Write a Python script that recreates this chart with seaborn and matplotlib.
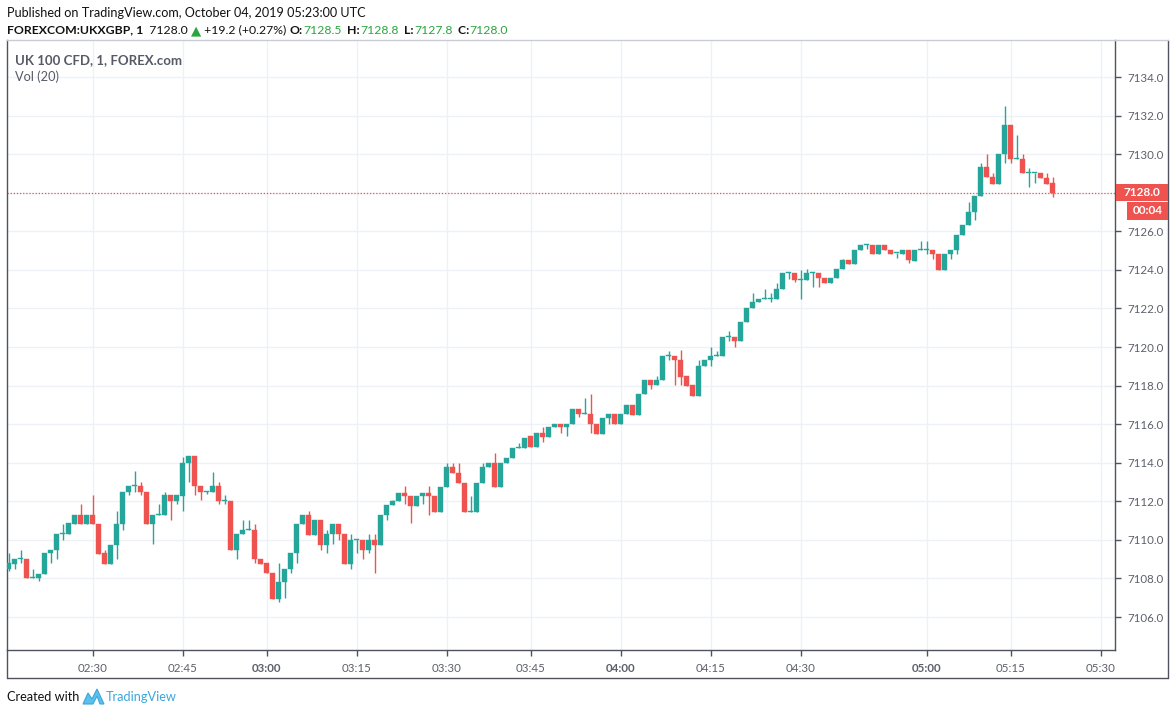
import numpy as np
import matplotlib
matplotlib.use("Agg")
import matplotlib.pyplot as plt
from matplotlib.lines import Line2D
from matplotlib.patches import Polygon, Rectangle
import seaborn as sns

# one-minute candles, FOREXCOM:UKXGBP
opens = [
    7108.5, 7108.75, 7109.0, 7109.0, 7108.0, 7108.0, 7108.25, 7109.3, 7109.5, 7110.3,
    7110.3, 7110.8, 7111.3, 7110.8, 7111.3, 7110.8, 7109.3, 7108.75, 7109.75, 7110.8,
    7112.5, 7112.8, 7112.8, 7112.5, 7110.8, 7111.3, 7111.3, 7112.35, 7112.0, 7112.3,
    7114.0, 7114.33, 7112.8, 7112.5, 7112.5, 7112.8, 7112.0, 7112.0, 7109.5, 7110.3,
    7110.5, 7110.5, 7109.0, 7108.8, 7108.26, 7106.95, 7107.8, 7108.5, 7109.3, 7110.8,
    7111.3, 7110.27, 7111.05, 7109.75, 7110.3, 7110.8, 7110.3, 7108.75, 7110.0, 7110.0,
    7109.5, 7110.0, 7109.75, 7111.3, 7111.8, 7112.0, 7112.45, 7112.28, 7111.75, 7112.28,
    7112.45, 7112.28, 7111.45, 7112.76, 7113.8, 7113.48, 7112.97, 7111.45, 7111.45, 7112.97,
    7113.8, 7113.97, 7112.74, 7113.97, 7114.26, 7114.78, 7114.78, 7115.38, 7114.8, 7115.52,
    7115.35, 7115.83, 7116.03, 7115.83, 7116.03, 7116.8, 7116.55, 7116.55, 7116.0, 7115.5,
    7116.34, 7116.55, 7116.0, 7116.55, 7117.0, 7116.5, 7117.54, 7118.29, 7118.03, 7118.29,
    7119.53, 7119.53, 7119.33, 7118.5, 7118.03, 7117.48, 7119.03, 7119.33, 7119.53, 7119.53,
    7120.53, 7120.53, 7120.3, 7121.3, 7122.02, 7122.35, 7122.48, 7122.48, 7122.48, 7123.0,
    7123.86, 7123.86, 7123.5, 7123.5, 7123.86, 7123.86, 7123.56, 7123.33, 7123.56, 7124.02,
    7124.53, 7124.33, 7125.05, 7125.3, 7125.3, 7124.82, 7125.3, 7125.05, 7124.87, 7124.82,
    7125.05, 7124.48, 7125.03, 7125.03, 7125.03, 7124.83, 7123.97, 7124.83, 7125.03, 7125.82,
    7126.32, 7127.0, 7127.84, 7129.34, 7128.82, 7128.47, 7129.99, 7131.5, 7129.77, 7129.77,
    7129.0, 7129.0, 7129.0, 7128.78, 7128.5]

highs = [
    7109.3, 7109.0, 7109.5, 7109.0, 7108.5, 7108.25, 7109.3, 7109.5, 7110.3, 7110.8,
    7110.85, 7111.3, 7111.85, 7111.3, 7112.35, 7110.8, 7109.5, 7109.75, 7111.5, 7112.5,
    7112.8, 7113.55, 7113.0, 7112.5, 7111.3, 7111.85, 7112.5, 7112.35, 7112.35, 7114.3,
    7114.33, 7114.33, 7112.8, 7112.55, 7113.5, 7113.0, 7112.35, 7112.0, 7110.3, 7111.05,
    7111.05, 7110.8, 7109.0, 7108.8, 7108.26, 7108.78, 7108.5, 7109.3, 7110.8, 7111.3,
    7111.5, 7111.05, 7111.05, 7110.5, 7110.8, 7110.8, 7110.3, 7110.3, 7110.02, 7110.0,
    7110.3, 7110.3, 7111.3, 7111.8, 7112.05, 7112.45, 7112.8, 7112.28, 7112.28, 7112.45,
    7112.8, 7112.28, 7112.76, 7114.0, 7114.0, 7114.0, 7112.97, 7112.28, 7112.97, 7114.0,
    7113.97, 7114.52, 7113.97, 7114.26, 7114.78, 7115.0, 7115.3, 7115.38, 7115.52, 7115.83,
    7115.83, 7116.03, 7116.03, 7116.03, 7116.8, 7116.8, 7117.35, 7117.54, 7116.0, 7116.34,
    7116.55, 7116.55, 7116.55, 7117.0, 7117.0, 7117.54, 7118.29, 7118.29, 7118.51, 7119.53,
    7119.8, 7119.53, 7119.85, 7118.5, 7118.03, 7119.33, 7119.33, 7120.0, 7119.8, 7120.53,
    7120.85, 7120.53, 7121.3, 7122.02, 7122.8, 7122.48, 7123.0, 7122.8, 7123.3, 7123.83,
    7123.88, 7123.86, 7124.0, 7124.03, 7123.88, 7123.86, 7123.56, 7123.56, 7124.02, 7124.55,
    7124.53, 7125.05, 7125.3, 7125.32, 7125.3, 7125.3, 7125.3, 7125.05, 7124.89, 7125.05,
    7125.05, 7125.03, 7125.5, 7125.5, 7125.03, 7124.83, 7124.83, 7125.03, 7125.82, 7126.32,
    7127.53, 7127.84, 7129.56, 7129.99, 7129.04, 7129.99, 7132.49, 7131.5, 7130.99, 7129.99,
    7129.3, 7129.02, 7129.0, 7129.0, 7128.8]

lows = [
    7108.4, 7108.5, 7108.8, 7108.0, 7108.0, 7107.85, 7108.25, 7108.8, 7109.0, 7110.0,
    7110.3, 7110.8, 7110.8, 7110.8, 7110.8, 7109.25, 7108.75, 7108.75, 7109.0, 7110.5,
    7112.35, 7112.5, 7112.35, 7110.8, 7109.8, 7111.3, 7111.3, 7111.05, 7111.85, 7111.5,
    7113.0, 7112.35, 7112.05, 7112.4, 7112.5, 7111.85, 7111.85, 7109.5, 7109.0, 7110.3,
    7110.5, 7108.8, 7108.75, 7108.26, 7106.95, 7106.8, 7107.0, 7108.3, 7108.8, 7110.8,
    7110.27, 7110.27, 7109.5, 7109.3, 7109.8, 7110.0, 7108.75, 7108.5, 7109.3, 7109.0,
    7109.3, 7108.3, 7109.75, 7111.05, 7111.8, 7112.0, 7111.85, 7110.85, 7111.75, 7111.85,
    7111.3, 7111.45, 7111.45, 7112.76, 7113.48, 7112.97, 7111.45, 7111.45, 7111.45, 7112.97,
    7113.8, 7112.74, 7112.74, 7113.97, 7114.26, 7114.78, 7114.78, 7114.8, 7114.8, 7115.06,
    7115.35, 7115.83, 7115.52, 7115.4, 7116.03, 7116.38, 7116.55, 7115.52, 7115.5, 7115.5,
    7116.03, 7116.0, 7116.0, 7116.55, 7116.5, 7116.5, 7117.54, 7117.83, 7118.03, 7118.29,
    7119.33, 7118.05, 7118.03, 7118.0, 7117.48, 7117.48, 7119.03, 7119.03, 7119.53, 7119.53,
    7120.33, 7120.0, 7120.3, 7121.3, 7122.02, 7122.35, 7122.48, 7122.35, 7122.48, 7123.0,
    7123.55, 7123.35, 7122.5, 7123.5, 7123.13, 7123.1, 7123.33, 7123.33, 7123.56, 7124.02,
    7124.33, 7124.33, 7125.05, 7125.1, 7124.82, 7124.82, 7125.05, 7124.82, 7124.6, 7124.82,
    7124.35, 7124.48, 7125.03, 7124.8, 7124.57, 7123.97, 7123.97, 7124.57, 7124.83, 7125.82,
    7126.32, 7126.58, 7127.84, 7128.82, 7128.47, 7128.47, 7129.56, 7129.56, 7129.77, 7129.0,
    7128.3, 7128.53, 7128.78, 7128.47, 7127.8]

closes = [
    7108.8, 7109.0, 7109.05, 7108.0, 7108.05, 7108.25, 7109.3, 7109.5, 7110.3, 7110.35,
    7110.85, 7111.3, 7110.8, 7111.3, 7110.8, 7109.25, 7108.75, 7109.75, 7110.8, 7112.5,
    7112.8, 7112.85, 7112.5, 7110.8, 7111.3, 7111.32, 7112.35, 7112.0, 7112.35, 7114.0,
    7114.33, 7112.8, 7112.5, 7112.52, 7112.8, 7112.0, 7112.02, 7109.5, 7110.3, 7110.5,
    7110.52, 7109.0, 7108.75, 7108.26, 7106.95, 7107.8, 7108.5, 7109.3, 7110.8, 7111.3,
    7110.27, 7111.05, 7109.75, 7110.3, 7110.8, 7110.3, 7108.75, 7110.0, 7110.02, 7109.5,
    7110.0, 7109.75, 7111.3, 7111.8, 7112.0, 7112.45, 7112.28, 7111.75, 7112.28, 7112.45,
    7112.28, 7111.45, 7112.76, 7113.8, 7113.48, 7112.97, 7111.45, 7111.47, 7112.97, 7113.8,
    7113.97, 7112.74, 7113.97, 7114.26, 7114.78, 7114.8, 7115.3, 7114.8, 7115.52, 7115.35,
    7115.83, 7116.03, 7115.83, 7116.03, 7116.8, 7116.55, 7116.57, 7116.0, 7115.5, 7116.34,
    7116.55, 7116.0, 7116.55, 7117.0, 7116.5, 7117.54, 7118.29, 7118.03, 7118.29, 7119.53,
    7119.55, 7119.33, 7118.47, 7118.0, 7117.48, 7119.03, 7119.33, 7119.53, 7119.55, 7120.53,
    7120.55, 7120.3, 7121.3, 7122.02, 7122.35, 7122.48, 7122.5, 7122.5, 7123.0, 7123.83,
    7123.88, 7123.5, 7123.52, 7123.86, 7123.88, 7123.56, 7123.33, 7123.56, 7124.02, 7124.53,
    7124.33, 7125.05, 7125.3, 7125.32, 7124.82, 7125.3, 7125.05, 7124.82, 7124.89, 7125.05,
    7124.5, 7125.03, 7125.05, 7125.05, 7124.83, 7123.97, 7124.83, 7125.03, 7125.82, 7126.32,
    7127.0, 7127.84, 7129.34, 7128.82, 7128.47, 7129.99, 7131.5, 7129.77, 7129.79, 7129.0,
    7129.02, 7129.02, 7128.78, 7128.47, 7128.0]

# time axis labels sit on bar numbers (the feed has gaps, so they are not evenly timed)
tick_bars = [14, 29, 43, 58, 73, 87, 102, 117, 132, 153, 167, 182]
tick_labels = ["02:30", "02:45", "03:00", "03:15", "03:30", "03:45",
               "04:00", "04:15", "04:30", "05:00", "05:15", "05:30"]
bold_labels = ["03:00", "04:00", "05:00"]
price_ticks = [7106, 7108, 7110, 7112, 7114, 7116, 7118, 7120,
               7122, 7124, 7126, 7128, 7130, 7132, 7134]
last_price = 7128.0

UP = "#26a69a"
DOWN = "#ef5350"
HDR_GREEN = "#2aa63f"
AXIS = "#50535e"
GRID = "#eef1f5"
LABEL = "#5d606b"

sns.set_theme(style="white")
plt.rcParams["font.family"] = ["Lato", "DejaVu Sans"]

W, H = 1176, 715
fig = plt.figure(figsize=(W / 100, H / 100), dpi=100)
fig.patch.set_facecolor("white")


def fx(px):
    return px / W


def fy(py):
    return 1 - py / H


ax = fig.add_axes([fx(7), fy(650), fx(1115) - fx(7), fy(40) - fy(650)])

o = np.array(opens)
h = np.array(highs)
l = np.array(lows)
c = np.array(closes)
bars = np.arange(len(c))
colors = np.where(c >= o, UP, DOWN)

# candles: wick then body
ax.vlines(bars, l, h, colors=colors, linewidth=1, zorder=3)
body_lo = np.minimum(o, c)
body_h = np.maximum(np.abs(c - o), 0.05)
ax.bar(bars, body_h, bottom=body_lo, width=0.74, color=colors,
       edgecolor=colors, linewidth=0.3, zorder=4)

ax.axhline(last_price, color=DOWN, lw=0.9, ls=(0, (1, 1.5)), zorder=2)

ax.set_xlim(-0.25, 184.4)
ax.set_ylim(7104.29, 7135.92)

ax.yaxis.tick_right()
ax.set_yticks(price_ticks)
# the last-price tag takes the place of its own tick label
ax.set_yticklabels(["" if v == last_price else f"{v:.1f}" for v in price_ticks])
ax.set_xticks(tick_bars)
ax.set_xticklabels(tick_labels)
for t in ax.get_xticklabels():
    if t.get_text() in bold_labels:
        t.set_fontweight("bold")
        t.set_color("#2a2e39")
ax.tick_params(axis="y", right=True, length=4, width=1, color=AXIS,
               labelcolor=LABEL, labelsize=8.3, pad=5)
ax.tick_params(axis="x", bottom=True, length=4, width=1, color=AXIS,
               labelcolor=LABEL, labelsize=8.3, pad=5)
ax.grid(True, color=GRID, lw=1)
ax.set_axisbelow(True)
for side in ["left", "right", "bottom"]:
    ax.spines[side].set_color(AXIS)
    ax.spines[side].set_linewidth(1)
ax.spines["top"].set_color("#c9ccd3")
ax.spines["top"].set_linewidth(1)

# outer frame of price and time scales
frame = dict(color=AXIS, lw=1, transform=fig.transFigure)
fig.add_artist(Line2D([fx(1168), fx(1168)], [fy(40), fy(678)], **frame))
fig.add_artist(Line2D([fx(7), fx(1168)], [fy(678), fy(678)], **frame))
fig.add_artist(Line2D([fx(7), fx(7)], [fy(650), fy(678)], **frame))
fig.add_artist(Line2D([fx(1115), fx(1168)], [fy(40), fy(40)], color="#c9ccd3",
                      lw=1, transform=fig.transFigure))

# last price and countdown tags
fig.canvas.draw()
py = H - ax.transData.transform((0, last_price))[1]
fig.add_artist(Rectangle((fx(1116), fy(py + 8.5)), fx(52), 17 / H,
                         transform=fig.transFigure, fc=DOWN, ec="none", zorder=5))
fig.text(fx(1142), fy(py), f"{last_price:.1f}", color="white", fontsize=8.5,
         fontweight="bold", ha="center", va="center", zorder=6)
fig.add_artist(Rectangle((fx(1127), fy(py + 27)), fx(41), 18 / H,
                         transform=fig.transFigure, fc=DOWN, ec="none", zorder=5))
fig.text(fx(1147.5), fy(py + 18), "00:04", color="white", fontsize=8.5,
         fontweight="bold", ha="center", va="center", zorder=6)

# header
fig.text(fx(7), fy(13), "Published on TradingView.com, October 04, 2019 05:23:00 UTC",
         fontsize=9.1, color="#111111", ha="left", va="center")
pieces = [
    ("FOREXCOM:UKXGBP, 1", "bold", "#111111"),
    ("  7128.0 ", "normal", "#111111"),
    ("▲", "normal", HDR_GREEN),
    (" +19.2 (+0.27%) ", "normal", "#111111"),
    ("O:", "bold", "#111111"),
    ("7128.5", "normal", HDR_GREEN),
    ("  H:", "bold", "#111111"),
    ("7128.8", "normal", HDR_GREEN),
    ("  L:", "bold", "#111111"),
    ("7127.8", "normal", HDR_GREEN),
    ("  C:", "bold", "#111111"),
    ("7128.0", "normal", HDR_GREEN),
]
prev = fig.text(fx(7), fy(30), pieces[0][0], fontsize=8.8, fontweight=pieces[0][1],
                color=pieces[0][2], ha="left", va="center")
for txt, wt, col in pieces[1:]:
    size = 9.5 if txt == "▲" else 8.8
    prev = ax.annotate(txt, xy=(1, 0.5), xycoords=prev, ha="left", va="center",
                       fontsize=size, fontweight=wt, color=col, annotation_clip=False)

# pane legend
fig.text(fx(15), fy(60), "UK 100 CFD, 1, FOREX.com", fontsize=9.5, fontweight="bold",
         color="#555a66", ha="left", va="center")
fig.text(fx(15), fy(77), "Vol (20)", fontsize=9.2, color="#555a66", ha="left", va="center")

# footer
fig.text(fx(7), fy(697), "Created with", fontsize=9.2, color="#111111", ha="left", va="center")
logo = [(83, 704), (88, 693), (92, 699), (97, 689), (104, 704), (100, 704),
        (97, 696), (93, 704), (88, 704), (86, 704)]
fig.add_artist(Polygon([(fx(x), fy(y)) for x, y in logo], closed=True,
                       transform=fig.transFigure, fc="#5bc0eb", ec="#3ba7d9", lw=0.8))
fig.text(fx(106), fy(697), "TradingView", fontsize=9.2, color="#3ba7d9", ha="left", va="center")

fig.savefig("out.png", dpi=100)
